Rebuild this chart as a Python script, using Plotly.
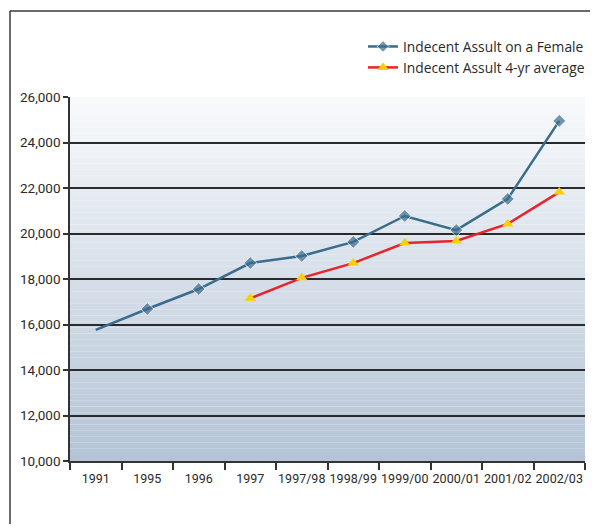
import plotly.graph_objects as go

categories = ["1991", "1995", "1996", "1997", "1997/98", "1998/99",
              "1999/00", "2000/01", "2001/02", "2002/03"]
female_assault = [15760, 16680, 17560, 18700, 19010, 19630, 20770, 20150, 21520, 24950]
avg_cats = ["1997", "1997/98", "1998/99", "1999/00", "2000/01", "2001/02", "2002/03"]
avg_4yr = [17150, 18050, 18700, 19580, 19670, 20420, 21820]
y_ticks = [10000, 12000, 14000, 16000, 18000, 20000, 22000, 24000, 26000]

# page body adds an 8px margin all round, keep the figure inside the window
OFF = 8
W, H = 598 - 2 * OFF, 532 - 2 * OFF
L, T = 70 - OFF, 97 - OFF
R = W + OFF - 585
B = H + OFF - 461
pw, ph = W - L - R, H - T - B


def px_x(x):
    # window pixel -> paper x
    return (x - OFF - L) / pw


def px_y(y):
    # window pixel -> paper y
    return (H - B - (y - OFF)) / ph


fig = go.Figure()

# first point has no marker in the original
fig.add_trace(go.Scatter(
    x=categories, y=female_assault, mode="lines+markers",
    name="Indecent Assult on a Female",
    line=dict(color="#3b6b8d", width=2.5),
    marker=dict(symbol="diamond", size=[0] + [10] * (len(categories) - 1), color="#3b6b8d"),
))
fig.add_trace(go.Scatter(
    x=avg_cats, y=avg_4yr, mode="lines+markers",
    name="Indecent Assult 4-yr average",
    line=dict(color="#e8232b", width=2.5),
    marker=dict(symbol="triangle-up", size=10, color="#f7d000"),
))

# vertical gradient background, drawn as thin bands
top = (248, 249, 251)
bot = (180, 196, 214)
n = 60
shapes = []
for i in range(n):
    f = i / (n - 1)
    c = tuple(round(top[k] + (bot[k] - top[k]) * f) for k in range(3))
    shapes.append(dict(type="rect", xref="x domain", yref="y domain",
                       x0=0, x1=1, y0=1 - (i + 1) / n, y1=1 - i / n,
                       fillcolor="rgb(%d,%d,%d)" % c, line=dict(width=0),
                       layer="below"))

# frame around the chart (top and left)
shapes.append(dict(type="line", xref="paper", yref="paper",
                   x0=px_x(10), x1=px_x(600), y0=px_y(11), y1=px_y(11),
                   line=dict(color="#3a3a3a", width=1.5)))
shapes.append(dict(type="line", xref="paper", yref="paper",
                   x0=px_x(10), x1=px_x(10), y0=px_y(11), y1=px_y(534),
                   line=dict(color="#3a3a3a", width=1.5)))

y_font = dict(family="Roboto, sans-serif", size=13.5, color="#2a2a2a")
x_font = dict(family="Roboto, sans-serif", size=12.5, color="#2a2a2a")

fig.update_layout(
    width=W, height=H,
    margin=dict(l=L, r=R, t=T, b=B, autoexpand=False),
    paper_bgcolor="#ffffff",
    plot_bgcolor="#ffffff",
    font=dict(family="Open Sans, sans-serif", size=13, color="#2a2a2a"),
    shapes=shapes,
    showlegend=True,
    legend=dict(x=px_x(363), y=px_y(31), xanchor="left", yanchor="top",
                bgcolor="rgba(0,0,0,0)", font=dict(size=13.8), tracegroupgap=0,
                itemwidth=30),
    xaxis=dict(type="category", categoryorder="array", categoryarray=categories,
               showgrid=False, showline=True, linecolor="#333", linewidth=1.5,
               ticks="outside", tickson="boundaries", ticklen=7, tickcolor="#333",
               tickwidth=1.5, tickangle=0, automargin=False,
               tickfont=x_font, ticklabelstandoff=5,
               range=[-0.5, len(categories) - 0.5]),
    yaxis=dict(range=[10000, 26000], tickvals=y_ticks, tickformat=",d",
               showgrid=True, gridcolor="#2b2b2b", gridwidth=1.5,
               showline=True, linecolor="#333", linewidth=1.5,
               ticks="outside", ticklen=5, tickcolor="#333", tickwidth=1.5,
               zeroline=False, automargin=False, tickfont=y_font),
)

fig.write_html("out.html")
